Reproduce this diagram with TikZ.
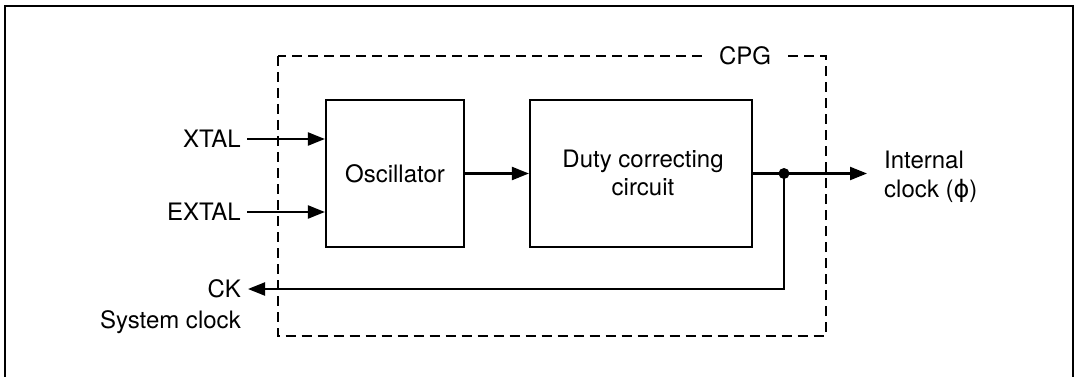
\documentclass[tikz,border=0pt]{standalone}
\usepackage{fontspec}
\setmainfont{TeX Gyre Heros}
\newfontfamily\dejavu{DejaVu Sans}
\usetikzlibrary{arrows.meta,calc}
\begin{document}
\begin{tikzpicture}[x=1pt,y=-1pt,
  txt/.style={font=\fontsize{24}{28.5}\selectfont},
  lbl/.style={txt, inner sep=0pt},
  blk/.style={draw, line width=2.2pt, minimum height=147pt, inner sep=0pt, txt},
  wire/.style={line width=2.2pt},
  arr/.style={wire, -{Triangle[length=17pt,width=13pt]}},
  frame/.style={line width=1.4pt},
  cpgbox/.style={dash pattern=on 10pt off 6pt, line width=2pt}
]
\useasboundingbox (0,0) rectangle (1076,377);
\draw[frame] (5,377) -- (5,6) -- (1073,6) -- (1073,377);
\draw[cpgbox] (277.5,56) rectangle (825.5,336);
\node[lbl, fill=white, inner xsep=12pt, inner ysep=3pt] (cpg) at (745,56) {CPG};

\node[blk, minimum width=138pt] (osc) at (395,173.5) {Oscillator};
\node[blk, minimum width=222pt] (duty) at (641,173.5) {};
\node[lbl, align=center] (dutytxt) at (643,173) {Duty correcting\\circuit};

\node[lbl, anchor=east] (xtal) at (241,139) {XTAL};
\node[lbl, anchor=east] (extal) at (241,212) {EXTAL};
\node[lbl, anchor=east] (ck) at (241,289) {CK};
\node[lbl, anchor=base east] (sys) at (241,328) {System clock};
\node[lbl, align=left, anchor=west] (int) at (884,177) {Internal\\clock ({\dejavu ϕ})};

\draw[arr] ([xshift=6pt]xtal.east) -- (xtal.east -| osc.west);
\draw[arr] ([xshift=6pt]extal.east) -- (extal.east -| osc.west);
\draw[arr] (osc.east) -- (duty.west);
\coordinate (dot) at (784,173.5);
\draw[wire] (duty.east) -- (dot);
\coordinate (intin) at ($(dot -| int.west)+(-17,0)$);
\draw[arr] (dot) -- (intin);
\draw[arr] (dot) |- ([xshift=7pt]ck.east);
\fill (dot) circle (5.5pt);
\end{tikzpicture}
\end{document}
